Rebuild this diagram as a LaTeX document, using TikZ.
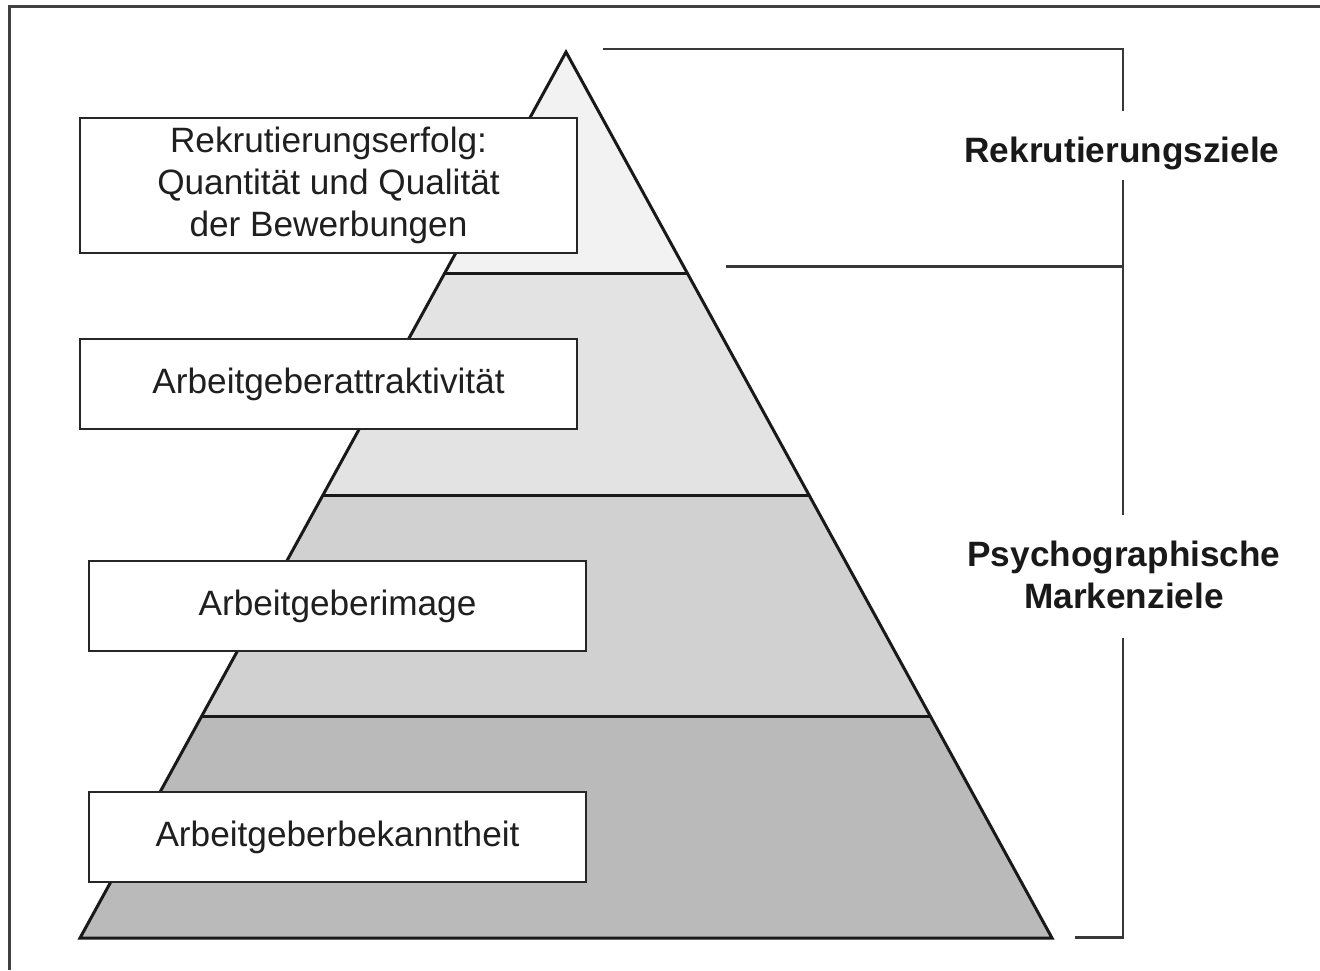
\documentclass[tikz,border=0pt]{standalone}
\usepackage{fontspec}
\setmainfont{Liberation Sans}
\begin{document}
\begin{tikzpicture}[x=0.5pt,y=-0.5pt,
  layer/.style={draw=black!90, line width=1.5pt, line join=miter},
  lbox/.style={draw=black!85, fill=white, line width=1.2pt, minimum width=248.5pt, inner sep=0pt, align=center, font=\fontsize{17.6}{21}\selectfont, text=black!88},
  brk/.style={draw=black!78, line width=1.1pt},
  frame/.style={draw=black!75, line width=1.5pt},
  goal/.style={font=\fontsize{17.6}{21}\selectfont\bfseries, text=black!90, align=center}]
\useasboundingbox (0,0) rectangle (1320,970);
% frame (top and left edges only)
\draw[frame] (9,970) -- (9,6.5) -- (1320,6.5);
% pyramid corners
\coordinate (apex) at (566,52);
\coordinate (bl) at (80,938);
\coordinate (br) at (1052,938);
\coordinate (l1) at (444.5,273.5); \coordinate (r1) at (687.5,273.5);
\coordinate (l2) at (323,495);   \coordinate (r2) at (809,495);
\coordinate (l3) at (201.5,716.5); \coordinate (r3) at (930.5,716.5);
\fill[black!5] (apex) -- (r1) -- (l1) -- cycle;
\fill[black!11] (l1) -- (r1) -- (r2) -- (l2) -- cycle;
\fill[black!18] (l2) -- (r2) -- (r3) -- (l3) -- cycle;
\fill[black!27] (l3) -- (r3) -- (br) -- (bl) -- cycle;
\draw[layer] (apex) -- (br) -- (bl) -- cycle;
\draw[layer] (l1) -- (r1);
\draw[layer] (l2) -- (r2);
\draw[layer] (l3) -- (r3);
% boxes
\node[lbox, minimum height=67.5pt] (b1) at (328.5,185.5) {Rekrutierungserfolg:\\Quantität und Qualität\\der Bewerbungen};
\node[lbox, minimum height=45pt] (b2) at (328.5,384) {Arbeitgeberattraktivität};
\node[lbox, minimum height=45pt] (b3) at (337.5,606) {Arbeitgeberimage};
\node[lbox, minimum height=45pt] (b4) at (337.5,837) {Arbeitgeberbekanntheit};
% goals
\node[goal] (g1) at (1122,153) {Rekrutierungsziele};
\node[goal] (g2) at (1124,575) {Psychographische\\Markenziele};
% bracket
\coordinate (t0) at (603,49); \coordinate (t1) at (1123,49);
\coordinate (m0) at (726,266.5); \coordinate (m1) at (1123,266.5);
\coordinate (e0) at (1075,937.5); \coordinate (e1) at (1123,937.5);
\draw[brk] (t0) -- (t1) -- (1123,111);
\draw[brk] (1123,180) -- (1123,515);
\draw[brk] (1123,638) -- (e1) -- (e0);
\draw[brk] (m0) -- (m1);
\end{tikzpicture}
\end{document}
